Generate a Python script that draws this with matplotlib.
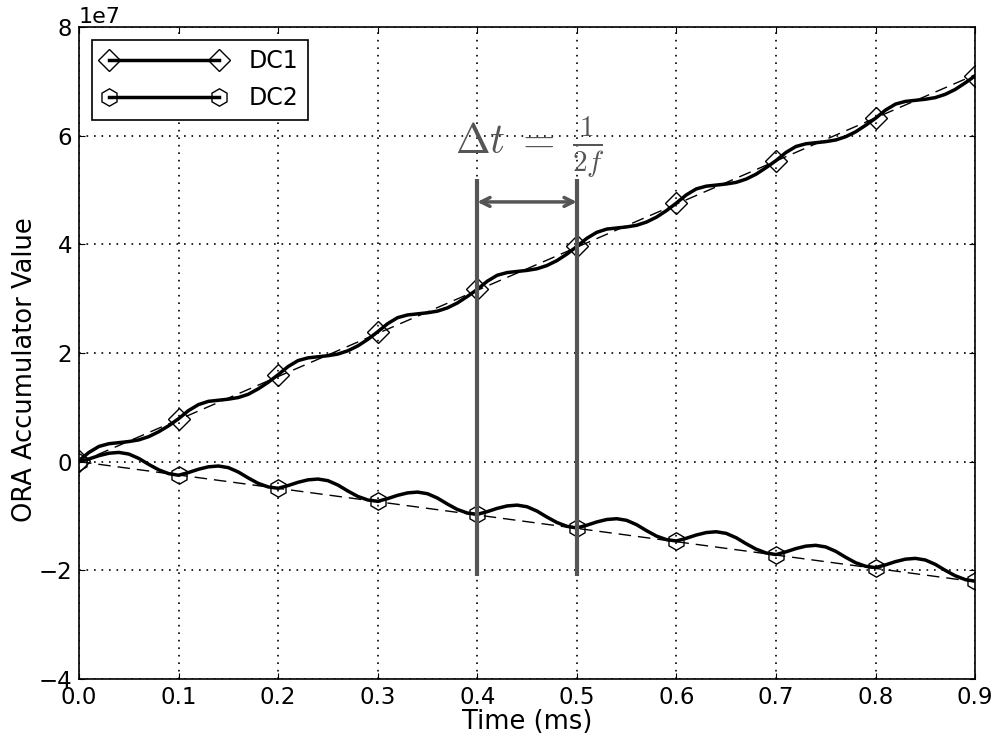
import numpy as np
import matplotlib
matplotlib.use("Agg")
import matplotlib.pyplot as plt

# sample times (ms), one value every 0.01 ms
t = np.round(np.arange(91) * 0.01, 2)

# ORA accumulator values, units of 1e7
dc1 = [
    0.02, 0.17, 0.28, 0.33, 0.35, 0.37, 0.40, 0.46, 0.55, 0.66,
    0.79, 0.94, 1.05, 1.11, 1.13, 1.15, 1.18, 1.24, 1.34, 1.46,
    1.60, 1.75, 1.86, 1.91, 1.93, 1.95, 1.98, 2.04, 2.13, 2.25,
    2.39, 2.54, 2.65, 2.70, 2.72, 2.74, 2.77, 2.83, 2.92, 3.04,
    3.17, 3.32, 3.43, 3.48, 3.50, 3.52, 3.55, 3.61, 3.70, 3.82,
    3.96, 4.11, 4.22, 4.28, 4.30, 4.32, 4.35, 4.41, 4.50, 4.62,
    4.76, 4.91, 5.02, 5.07, 5.09, 5.11, 5.14, 5.20, 5.29, 5.41,
    5.54, 5.69, 5.80, 5.85, 5.87, 5.89, 5.92, 5.98, 6.07, 6.19,
    6.32, 6.47, 6.58, 6.63, 6.65, 6.67, 6.70, 6.76, 6.85, 6.97,
    7.10,
]
dc2 = [
    0.00, 0.05, 0.11, 0.155, 0.17, 0.14, 0.06, -0.05, -0.15, -0.22,
    -0.25, -0.20, -0.14, -0.095, -0.08, -0.11, -0.19, -0.30, -0.40, -0.465,
    -0.49, -0.44, -0.38, -0.335, -0.32, -0.35, -0.43, -0.54, -0.64, -0.705,
    -0.73, -0.68, -0.62, -0.575, -0.56, -0.59, -0.67, -0.78, -0.88, -0.945,
    -0.97, -0.92, -0.86, -0.815, -0.80, -0.83, -0.91, -1.02, -1.12, -1.19,
    -1.22, -1.17, -1.11, -1.065, -1.05, -1.08, -1.16, -1.27, -1.37, -1.435,
    -1.46, -1.41, -1.35, -1.305, -1.29, -1.32, -1.40, -1.51, -1.61, -1.68,
    -1.71, -1.66, -1.60, -1.555, -1.54, -1.57, -1.65, -1.76, -1.86, -1.925,
    -1.95, -1.90, -1.84, -1.795, -1.78, -1.81, -1.89, -2.00, -2.10, -2.17,
    -2.20,
]

# straight-line fits (endpoints)
fit_t = [0.0, 0.9]
dc1_fit = [-0.02, 7.12]
dc2_fit = [0.0, -2.21]

# annotation positions
dt_marks = [0.4, 0.5]

scale = 1e7
dc1 = np.array(dc1) * scale
dc2 = np.array(dc2) * scale

plt.rcParams["mathtext.fontset"] = "cm"

fig = plt.figure(figsize=(9.95, 7.45), dpi=100)
ax = fig.add_axes([0.0794, 0.0886, 0.9006, 0.8752])

ax.plot(t, dc1, "-", color="black", lw=2.5, marker="D", markersize=11.5,
        markevery=10, markerfacecolor="none", markeredgecolor="black",
        markeredgewidth=1.0, label="DC1", zorder=3)
ax.plot(t, dc2, "-", color="black", lw=2.5, marker="h", markersize=12.5,
        markevery=10, markerfacecolor="none", markeredgecolor="black",
        markeredgewidth=1.0, label="DC2", zorder=3)
ax.plot(fit_t, np.array(dc1_fit) * scale, color="black", lw=1.0,
        dashes=(9, 5), zorder=2)
ax.plot(fit_t, np.array(dc2_fit) * scale, color="black", lw=1.0,
        dashes=(9, 5), zorder=2)

# delta t annotation
ax.vlines(dt_marks, -2.1e7, 5.2e7, color="#555555", lw=3, zorder=4)
ax.annotate("", xy=(dt_marks[0], 4.78e7), xytext=(dt_marks[1], 4.78e7),
            arrowprops=dict(arrowstyle="<->", color="#555555", lw=2.5,
                            shrinkA=0, shrinkB=0, mutation_scale=16), zorder=4)
ax.text(0.4525, 5.78e7, r"$\Delta t\;=\;\frac{1}{2f}$", color="#555555",
        fontsize=30, ha="center", va="center")

ax.set_xlim(0, 0.9)
ax.set_ylim(-4e7, 8e7)
ax.set_xticks(np.arange(0, 0.91, 0.1))
ax.set_yticks(np.arange(-4e7, 8.1e7, 2e7))
ax.xaxis.set_major_formatter(matplotlib.ticker.FormatStrFormatter("%.1f"))
ax.tick_params(direction="in", top=True, right=True, length=4,
               labelsize=16.5, pad=5)
ax.yaxis.get_offset_text().set_fontsize(16)
ax.grid(True, color="black", lw=1.2, linestyle=(0, (1, 3.5)))
for s in ax.spines.values():
    s.set_linewidth(1.2)

ax.set_xlabel("Time (ms)", fontsize=18.5, labelpad=0)
ax.set_ylabel("ORA Accumulator Value", fontsize=18.5)
ax.yaxis.set_label_coords(-0.046, 0.474)

leg = ax.legend(loc="upper left", numpoints=2, handlelength=5.3,
                handletextpad=0.95, labelspacing=0.55,
                fontsize=17, fancybox=False, framealpha=1,
                edgecolor="black", borderaxespad=0.55)
leg.get_frame().set_linewidth(1.2)

plt.savefig("out.png", dpi=100)
